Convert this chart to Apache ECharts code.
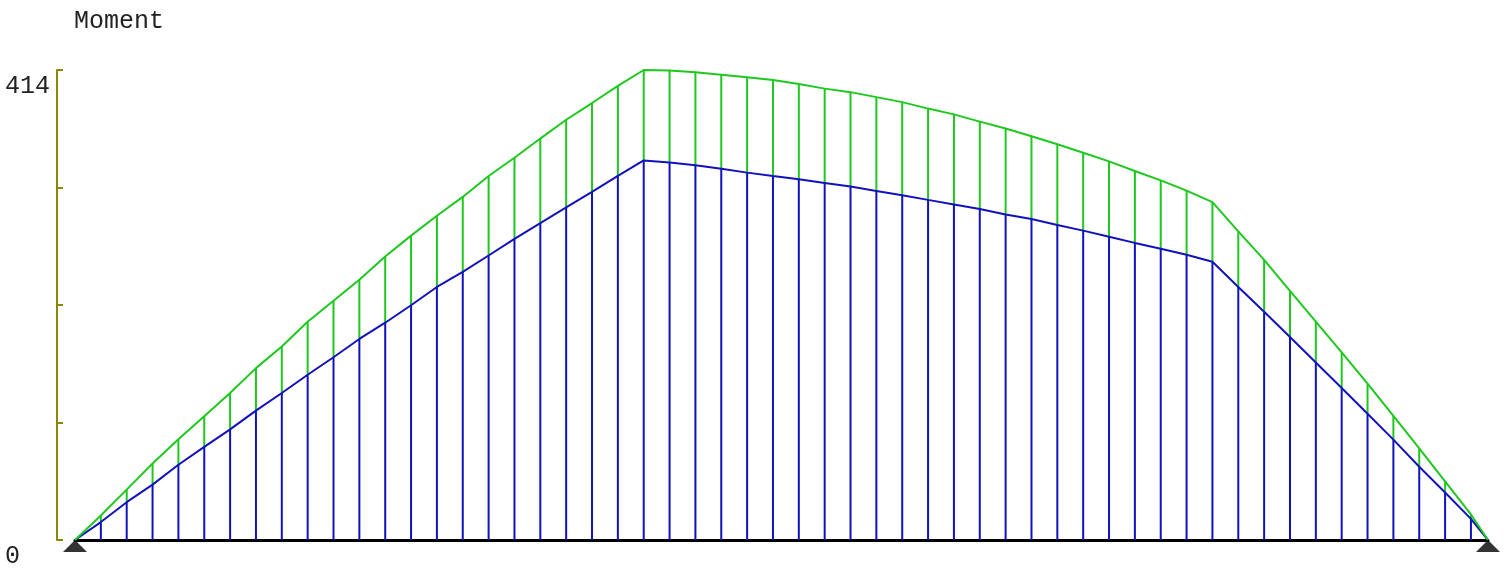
<!DOCTYPE html>
<html>
<head>
<meta charset="utf-8">
<script src="https://cdn.jsdelivr.net/npm/echarts@6/dist/echarts.min.js"></script>
<style>
  html, body { margin: 0; padding: 0; background: #fff; }
  #main { width: 1508px; height: 569px; }
</style>
</head>
<body>
<div id="main"></div>
<script>
// stations along the beam (evenly spaced, last one is the right support)
var stations = [0, 1, 2, 3, 4, 5, 6, 7, 8, 9, 10, 11, 12, 13, 14, 15, 16, 17, 18, 19,
  20, 21, 22, 23, 24, 25, 26, 27, 28, 29, 30, 31, 32, 33, 34, 35, 36, 37, 38, 39,
  40, 41, 42, 43, 44, 45, 46, 47, 48, 49, 50, 51, 52, 53, 54, 54.66];

// upper envelope (green)
var maxMoment = [0, 21.6, 44.4, 67.4, 88.7, 109.1, 129.5, 151.4, 170.4, 192.3,
  210.7, 229.3, 249.7, 268.1, 285.6, 302.2, 320.6, 336.7, 353.6, 370.2,
  384.9, 400, 414, 413.6, 412, 409.9, 407.6, 405.2, 401.7, 397.6,
  394.5, 390.1, 385.7, 380, 374.9, 368.5, 362.4, 355.6, 348.6, 341.1,
  333.5, 325, 316.8, 307.8, 297.6, 271.9, 246.8, 219.4, 192.3, 165.2,
  137.7, 109.4, 80.8, 51.6, 22.5, 0];

// lower envelope (blue)
var minMoment = [0, 15.8, 33.3, 48.8, 66.3, 82, 97.4, 114, 129.5, 145.6,
  161, 177.1, 191.4, 206.8, 222.9, 236.1, 250.6, 265.2, 279.2, 292.9,
  306.6, 320.8, 334.3, 332.6, 330, 327.1, 323.6, 320.6, 317.7, 314.5,
  311.3, 307.5, 303.7, 299.6, 295.6, 291.5, 286.8, 282.7, 277.5, 272.5,
  267.2, 261.7, 256.5, 251.2, 245.1, 222.9, 201, 178.8, 156.4, 133.9,
  111.2, 88.4, 64.5, 41.8, 18.6, 0];

var yTicks = [0, 414];
var supports = [0, 54.66];

var green = '#1ec81e';
var blue = '#1212bc';
var olive = '#8c8700';
var mono = '"Courier New", Courier, "Nimbus Mono PS", FreeMono, "Liberation Mono", monospace';

var greenLine = [], blueLine = [], hatch = [];
for (var i = 0; i < stations.length; i++) {
  greenLine.push([stations[i], maxMoment[i]]);
  blueLine.push([stations[i], minMoment[i]]);
  if (i > 0 && i < stations.length - 1) {
    hatch.push([stations[i], minMoment[i], maxMoment[i]]);
  }
}

var chart = echarts.init(document.getElementById('main'));
var option = {
  animation: false,
  title: {
    text: 'Moment',
    left: 69,
    top: 4,
    textStyle: { fontFamily: mono, fontSize: 25, fontWeight: 'normal', color: '#222' }
  },
  grid: { left: 75, right: 20, top: 70, bottom: 26 },
  xAxis: {
    type: 'value',
    min: 0,
    max: stations[stations.length - 1],
    axisLine: { show: true, onZero: false, lineStyle: { color: '#000', width: 3 } },
    axisTick: { show: false },
    axisLabel: { show: false },
    splitLine: { show: false }
  },
  yAxis: {
    type: 'value',
    min: 0,
    max: 414,
    interval: 103.5,
    offset: 18,
    axisLine: { show: true, onZero: false, lineStyle: { color: olive, width: 2 } },
    axisTick: { show: true, inside: true, length: 6, lineStyle: { color: olive, width: 2 } },
    axisLabel: {
      align: 'left',
      margin: 52,
      verticalAlign: 'top',
      padding: [4, 0, 0, 0],
      fontFamily: mono,
      fontSize: 25,
      color: '#222',
      formatter: function (v) {
        return yTicks.indexOf(v) >= 0 ? String(v) : '';
      }
    },
    splitLine: { show: false }
  },
  series: [
    {
      type: 'custom',
      data: hatch,
      z: 1,
      renderItem: function (params, api) {
        var x = api.value(0);
        var p0 = api.coord([x, 0]);
        var p1 = api.coord([x, api.value(1)]);
        var p2 = api.coord([x, api.value(2)]);
        return {
          type: 'group',
          children: [
            { type: 'line', shape: { x1: p0[0], y1: p0[1], x2: p1[0], y2: p1[1] },
              style: { stroke: blue, lineWidth: 2 } },
            { type: 'line', shape: { x1: p1[0], y1: p1[1], x2: p2[0], y2: p2[1] },
              style: { stroke: green, lineWidth: 2 } }
          ]
        };
      }
    },
    {
      type: 'line',
      data: blueLine,
      symbol: 'none',
      z: 3,
      lineStyle: { color: blue, width: 2 }
    },
    {
      type: 'line',
      data: greenLine,
      symbol: 'none',
      z: 3,
      lineStyle: { color: green, width: 2 }
    },
    {
      type: 'scatter',
      data: supports.map(function (s) { return [s, 0]; }),
      symbol: 'triangle',
      symbolSize: [24, 12],
      symbolOffset: [0, 6],
      z: 5,
      itemStyle: { color: '#000' }
    }
  ]
};
chart.setOption(option);
</script>
</body>
</html>
